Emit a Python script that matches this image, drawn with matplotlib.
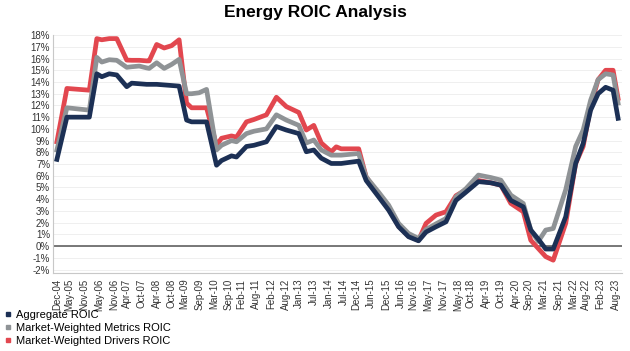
import pandas as pd
import matplotlib
matplotlib.use('Agg')
import matplotlib.pyplot as plt
from matplotlib.lines import Line2D
from matplotlib.ticker import FuncFormatter, MultipleLocator

plt.rcParams['font.family'] = ['Liberation Sans', 'DejaVu Sans']

# months since Dec-04 at which the line turns
months = [0, 4, 13, 16, 18, 21, 24, 28, 30, 33, 36, 37, 40, 43, 46, 49, 52, 54, 57, 60,
          64, 66, 70, 72, 76, 79, 84, 88, 92, 97, 100, 103, 106, 110, 112, 114, 121, 124,
          129, 133, 137, 141, 145, 148, 152, 156, 160, 164, 169, 174, 178, 182, 187, 190,
          193, 196, 199, 204, 208, 211, 214, 217, 220, 223, 225]

aggregate = [7.4, 11.0, 11.0, 14.7, 14.45, 14.7, 14.6, 13.6, 13.9, 13.85, 13.8, 13.8, 13.8,
             13.75, 13.7, 13.65, 10.75, 10.6, 10.6, 10.6, 6.9, 7.3, 7.7, 7.6, 8.5, 8.6, 8.9,
             10.2, 9.9, 9.6, 8.05, 8.2, 7.5, 7.05, 7.05, 7.05, 7.25, 5.6, 4.2, 3.07, 1.65,
             0.8, 0.45, 1.2, 1.65, 2.07, 3.9, 4.6, 5.5, 5.4, 5.2, 3.9, 3.35, 1.37, 0.6, -0.25,
             -0.25, 2.5, 7.05, 8.76, 11.6, 13.0, 13.55, 13.3, 10.9]

metrics = [8.2, 11.8, 11.6, 16.1, 15.7, 15.9, 15.85, 15.25, 15.3, 15.36, 15.2, 15.16, 15.64,
           15.16, 15.5, 15.93, 13.0, 13.0, 13.08, 13.37, 8.2, 8.6, 9.0, 8.9, 9.6, 9.8, 10.0,
           11.2, 10.75, 10.3, 8.8, 9.05, 8.2, 7.76, 7.76, 7.76, 7.9, 5.9, 4.6, 3.5, 1.94,
           1.08, 0.65, 1.42, 1.9, 2.36, 4.2, 4.9, 6.06, 5.85, 5.63, 4.35, 3.64, 1.37, 0.4,
           1.37, 1.5, 4.8, 8.5, 9.9, 12.45, 14.2, 14.7, 14.6, 12.2]

drivers = [8.9, 13.45, 13.3, 17.7, 17.6, 17.7, 17.7, 15.87, 15.85, 15.85, 15.8, 15.8, 17.2,
           16.9, 17.1, 17.6, 12.2, 11.8, 11.8, 11.8, 8.6, 9.2, 9.4, 9.3, 10.6, 10.8, 11.2,
           12.7, 11.9, 11.4, 9.9, 10.3, 8.8, 8.05, 8.47, 8.3, 8.3, 5.9, 4.4, 3.2, 1.7,
           0.85, 0.5, 1.94, 2.65, 2.93, 4.3, 4.8, 5.6, 5.4, 5.2, 3.64, 2.93, 0.5, -0.2,
           -0.9, -1.2, 1.94, 7.05, 8.5, 11.9, 14.2, 15.0, 15.0, 12.6]

tick_labels = ['Dec-04', 'May-05', 'Nov-05', 'May-06', 'Nov-06', 'Apr-07', 'Oct-07', 'Apr-08',
               'Oct-08', 'Mar-09', 'Sep-09', 'Mar-10', 'Sep-10', 'Feb-11', 'Aug-11', 'Feb-12',
               'Aug-12', 'Jan-13', 'Jul-13', 'Jan-14', 'Jul-14', 'Dec-14', 'Jun-15', 'Dec-15',
               'Jun-16', 'Nov-16', 'May-17', 'Nov-17', 'May-18', 'Oct-18', 'Apr-19', 'Oct-19',
               'Apr-20', 'Sep-20', 'Mar-21', 'Sep-21', 'Mar-22', 'Aug-22', 'Feb-23', 'Aug-23']

navy = '#1c3055'
grey = '#8f9396'
red = '#e2474f'

# tick positions as months since Dec-04
start = pd.Period('2004-12', 'M')
tick_pos = [(pd.Period(pd.to_datetime(t, format='%b-%y'), 'M') - start).n for t in tick_labels]

fig = plt.figure(figsize=(6.3, 3.51), dpi=100)
ax = fig.add_axes([0.084, 0.222, 0.903, 0.678])

ax.plot(months, drivers, color=red, lw=3.4, solid_joinstyle='round', zorder=3)
ax.plot(months, metrics, color=grey, lw=3.4, solid_joinstyle='round', zorder=4)
ax.plot(months, aggregate, color=navy, lw=3.4, solid_joinstyle='round', zorder=5)

ax.set_ylim(-2.3, 18)
ax.set_xlim(-1.6, 226.5)
ax.set_yticks(range(-2, 19))
ax.yaxis.set_major_formatter(FuncFormatter(lambda v, p: f'{v:.0f}%'))
ax.grid(axis='y', color='#ececec', lw=0.6)
ax.axhline(0, color='#6d6d6d', lw=1.3, zorder=2)

ax.set_xticks(tick_pos)
ax.set_xticklabels(tick_labels, rotation=90)
ax.tick_params(axis='both', length=0, labelsize=7, colors='#333333')
ax.tick_params(axis='x', pad=4)
ax.tick_params(axis='y', pad=2)

for s in ['top', 'right']:
    ax.spines[s].set_visible(False)
ax.spines['left'].set_color('#c8c8c8')
ax.spines['bottom'].set_color('#c8c8c8')

fig.suptitle('Energy ROIC Analysis', fontsize=12.5, fontweight='bold', y=0.985)

handles = [Line2D([], [], ls='none', marker='s', ms=3.5, color=c) for c in (navy, grey, red)]
fig.legend(handles, ['Aggregate ROIC', 'Market-Weighted Metrics ROIC', 'Market-Weighted Drivers ROIC'],
           loc='upper left', bbox_to_anchor=(-0.005, 0.14), frameon=False, fontsize=8,
           handlelength=0.6, handletextpad=0.4, labelspacing=0.3, borderpad=0.2)

fig.savefig('out.png', dpi=100)
